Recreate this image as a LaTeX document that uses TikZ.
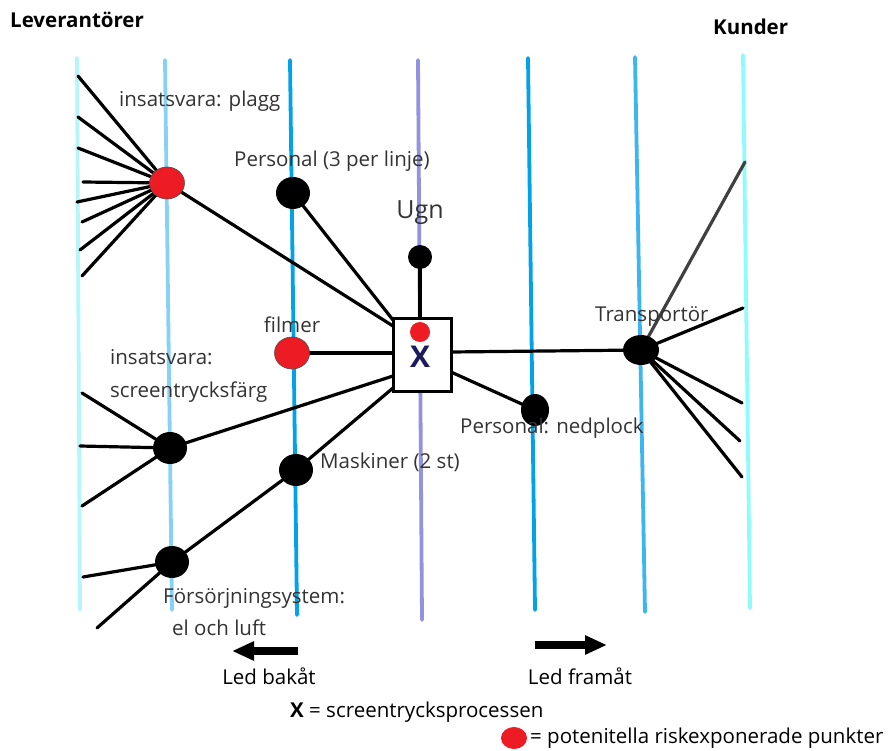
\documentclass[tikz,border=0pt]{standalone}
\usepackage{fontspec}
\setmainfont{Open Sans}
\usetikzlibrary{arrows.meta,shapes.geometric}
\definecolor{cyanA}{HTML}{B4F6FA}
\definecolor{cyanB}{HTML}{8EFCFC}
\definecolor{skyA}{HTML}{86D2F6}
\definecolor{blueA}{HTML}{00A2E8}
\definecolor{blueB}{HTML}{3CB6EE}
\definecolor{lilac}{HTML}{9292E0}
\definecolor{riskred}{HTML}{ED1C24}
\definecolor{labelgray}{HTML}{333333}
\definecolor{xnavy}{HTML}{1C1C5C}
\begin{document}
\begin{tikzpicture}[x=1pt,y=-1pt,
  tier/.style={line width=3.8pt,line cap=round},
  link/.style={line width=3.2pt,line cap=round},
  dotblack/.style={ellipse,fill=black,inner sep=0pt,minimum width=34pt,minimum height=32pt},
  dotred/.style={ellipse,fill=riskred,draw=black!70,line width=0.6pt,inner sep=0pt,minimum width=35pt,minimum height=32pt},
  ugndot/.style={circle,fill=black,inner sep=0pt,minimum size=24pt},
  neddot/.style={ellipse,fill=black,inner sep=0pt,minimum width=28pt,minimum height=32pt},
  transdot/.style={ellipse,fill=black,inner sep=0pt,minimum width=36pt,minimum height=30pt},
  procbox/.style={draw=black,line width=3pt,fill=white,minimum width=58pt,minimum height=73pt,inner sep=0pt},
  xmark/.style={font=\fontsize{30}{32}\selectfont\bfseries,text=xnavy,inner sep=0pt},
  lbl/.style={text=labelgray,font=\fontsize{20.5}{24}\selectfont,inner sep=0pt},
  ttl/.style={font=\fontsize{20.5}{24}\selectfont\bfseries,inner sep=0pt},
  bigarrow/.style={-{Triangle[length=22pt,width=18pt]},line width=8pt}
]
\useasboundingbox (0,0) rectangle (893,751);

% vertical tiers of the chain
\draw[tier,cyanA] (77,58) -- (80,610);
\draw[tier,skyA] (165,60) -- (172,610);
\draw[tier,blueA] (290,60) -- (297,615);
\draw[tier,lilac] (418,60) -- (422,620);
\draw[tier,blueA] (528,58) -- (535,610);
\draw[tier,blueB] (635,57) -- (645,612);
\draw[tier,cyanB] (743,55) -- (750,608);

% titles
\node[ttl,anchor=west] (lev) at (10,20) {Leverantörer};
\node[ttl,anchor=west] (kun) at (713,27) {Kunder};

% node positions
\coordinate (plagg) at (167,183);
\coordinate (pers) at (293,193);
\coordinate (ugn) at (420,257);
\coordinate (film) at (292,353);
\coordinate (farg) at (170,448);
\coordinate (mask) at (296,470);
\coordinate (fors) at (172,562);
\coordinate (ned) at (535,410);
\coordinate (trans) at (641,350);
\coordinate (box) at (422,354.5);

% supplier fan points
\coordinate (s1) at (78,76);
\coordinate (s2) at (78,117);
\coordinate (s3) at (78,148);
\coordinate (s4) at (83,182);
\coordinate (s5) at (77,202);
\coordinate (s6) at (82,222);
\coordinate (s7) at (80,250);
\coordinate (s8) at (82,276);
\coordinate (f1) at (82,393);
\coordinate (f2) at (80,446);
\coordinate (f3) at (82,506);
\coordinate (e1) at (83,577);
\coordinate (e2) at (97,628);
% customer fan points
\coordinate (k1) at (745,162);
\coordinate (k2) at (743,308);
\coordinate (k3) at (742,403);
\coordinate (k4) at (740,441);
\coordinate (k5) at (742,477);

% box attachment points
\coordinate (bTL) at (393,326);
\coordinate (bTL2) at (393,320);
\coordinate (bL) at (393,353);
\coordinate (bL2) at (393,376);
\coordinate (bBL) at (393,388);
\coordinate (bT) at (420,318);
\coordinate (bR) at (451,352);
\coordinate (bR2) at (451,372);

% connectors
\foreach \p in {s1,s2,s3,s4,s5,s6,s7,s8}{\draw[link] (\p) -- (plagg);}
\foreach \p in {f1,f2,f3}{\draw[link] (\p) -- (farg);}
\foreach \p in {e1,e2}{\draw[link] (\p) -- (fors);}
\draw[link,black!75] (k1) -- (trans);
\foreach \p in {k2,k3,k4,k5}{\draw[link] (\p) -- (trans);}
\draw[link] (plagg) -- (bTL);
\draw[link] (pers) -- (bTL2);
\draw[link] (ugn) -- (bT);
\draw[link] (film) -- (bL);
\draw[link] (farg) -- (bL2);
\draw[link] (fors) -- (mask) -- (bBL);
\draw[link] (bR) -- (trans);
\draw[link] (bR2) -- (ned);

% dots drawn over the connectors
\node[dotred] (nplagg) at (plagg) {};
\node[dotblack] (npers) at (pers) {};
\node[ugndot] (nugn) at (ugn) {};
\node[dotred] (nfilm) at (film) {};
\node[dotblack] (nfarg) at (farg) {};
\node[dotblack] (nmask) at (mask) {};
\node[dotblack] (nfors) at (fors) {};
\node[neddot] (nned) at (ned) {};
\node[transdot] (ntrans) at (trans) {};
\node[procbox] (nbox) at (box) {};
\node[circle,fill=riskred,inner sep=0pt,minimum size=20pt] (boxrisk) at (420,332) {};
\node[xmark] (xlab) at (420,357) {X};

% labels
\node[lbl,anchor=west] (lplagg) at (119,101) {insatsvara: plagg};
\node[lbl,anchor=west] (lpers) at (234,161) {Personal (3 per linje)};
\node[lbl,font=\fontsize{25}{28}\selectfont] (lugn) at (420,213) {Ugn};
\node[lbl] (lfilm) at (292,325) {filmer};
\node[lbl,anchor=west] (lfarg1) at (110,357) {insatsvara:};
\node[lbl,anchor=west] (lfarg2) at (110,392) {screentrycksfärg};
\node[lbl,anchor=west] (lmask) at (320,462) {Maskiner (2 st)};
\node[lbl,anchor=west] (lfors1) at (163,598) {Försörjningsystem:};
\node[lbl,anchor=west] (lfors2) at (172,628) {el och luft};
\node[lbl,anchor=west] (lned) at (460,428) {Personal: nedplock};
\node[lbl,anchor=west] (ltrans) at (595,316) {Transportör};

% direction arrows
\coordinate (ba1) at (298,651);
\coordinate (ba2) at (232,651);
\coordinate (fa1) at (535,645);
\coordinate (fa2) at (607,645);
\draw[bigarrow] (ba1) -- (ba2);
\draw[bigarrow] (fa1) -- (fa2);
\node[lbl,text=black] (lbak) at (269,676) {Led bakåt};
\node[lbl,text=black] (lfram) at (580,676) {Led framåt};

% legend
\node[lbl,text=black,anchor=west] (legx) at (290,712) {\textbf{X} = screentrycksprocessen};
\node[ellipse,fill=riskred,inner sep=0pt,minimum width=26pt,minimum height=22pt] (legdot) at (514,738) {};
\node[lbl,text=black,anchor=west] (legr) at (530,738) {= potenitella riskexponerade punkter};
\end{tikzpicture}
\end{document}
